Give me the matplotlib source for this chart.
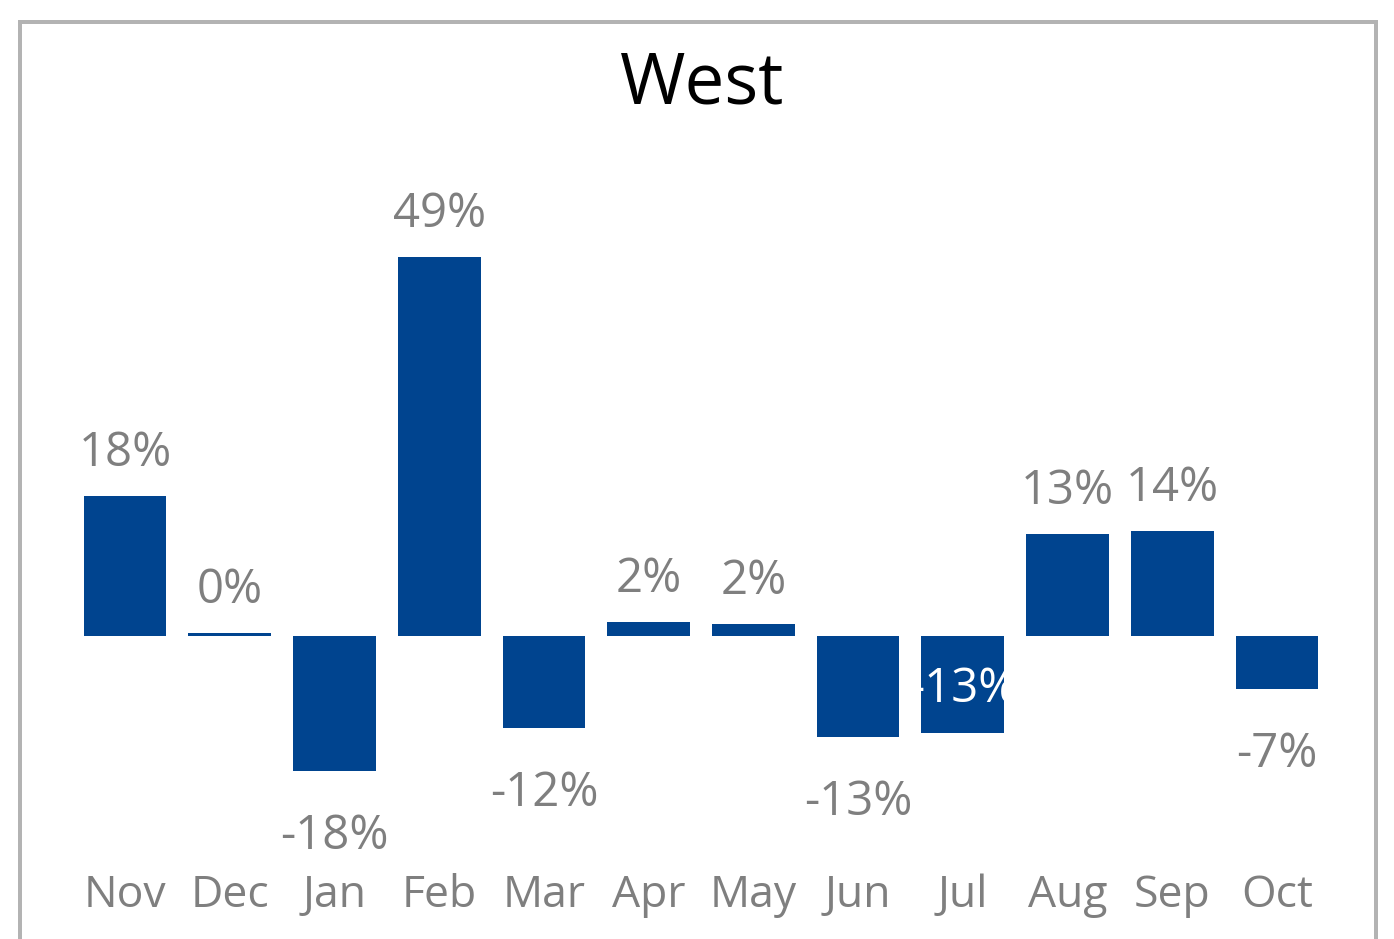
import matplotlib.pyplot as plt
from matplotlib.patches import Rectangle

MONTHS = ["Nov", "Dec", "Jan", "Feb", "Mar", "Apr", "May", "Jun", "Jul", "Aug", "Sep", "Oct"]
VALUES = [0.180, 0.004, -0.174, 0.488, -0.119, 0.018, 0.015, -0.130, -0.125, 0.131, 0.135, -0.068]
LABELS = ["18%", "0%", "-18%", "49%", "-12%", "2%", "2%", "-13%", "-13%", "13%", "14%", "-7%"]
INSIDE = ["Jul"]  # label drawn inside the bar

BAR_COLOR = "#00448F"
TEXT_GREY = "#7F7F7F"
W, H = 1394, 939
PX_PER_UNIT = 776
ZERO_Y = 636  # pixel row of zero line


plt.rcParams["font.family"] = ["Open Sans", "DejaVu Sans"]

fig = plt.figure(figsize=(W / 100, H / 100), dpi=100)

# axes box in pixels
left, right, top, bottom = 72.6, 1329.4, 160, 850
ax = fig.add_axes([left / W, 1 - bottom / H, (right - left) / W, (bottom - top) / H])
ax.set_ylim(-(bottom - ZERO_Y) / PX_PER_UNIT, (ZERO_Y - top) / PX_PER_UNIT)
ax.set_xlim(-0.5, len(MONTHS) - 0.5)

x = range(len(MONTHS))
bars = ax.bar(x, VALUES, width=0.79, color=BAR_COLOR)

px = 72 / 100  # points per pixel
for bar, month, val, lab in zip(bars, MONTHS, VALUES, LABELS):
    cx = bar.get_x() + bar.get_width() / 2
    if month in INSIDE:
        t = ax.annotate(lab, (cx, val / 2), xytext=(0, -5 * px), textcoords="offset points",
                        ha="center", va="center", fontsize=34, color="white")
        t.set_clip_path(bar)
        continue
    off = 43 if val >= 0 else -65
    ax.annotate(lab, (cx, val), xytext=(0, off * px), textcoords="offset points",
                ha="center", va="center", fontsize=34, color=TEXT_GREY)

ax.set_xticks(list(x))
ax.set_xticklabels(MONTHS, fontsize=32, color=TEXT_GREY)
ax.tick_params(axis="x", length=0, pad=17)
ax.set_yticks([])
for s in ax.spines.values():
    s.set_visible(False)

fig.text(702 / W, 1 - 85 / H, "West", ha="center", va="center", fontsize=51, color="black")

# chart border, bottom edge runs off the image
fig.patches.append(Rectangle((20 / W, -0.05), 1356 / W, 1.05 - 22 / H,
                             transform=fig.transFigure, fill=False,
                             edgecolor="#B3B3B3", linewidth=4 * px))

fig.savefig("out.png", dpi=100)
